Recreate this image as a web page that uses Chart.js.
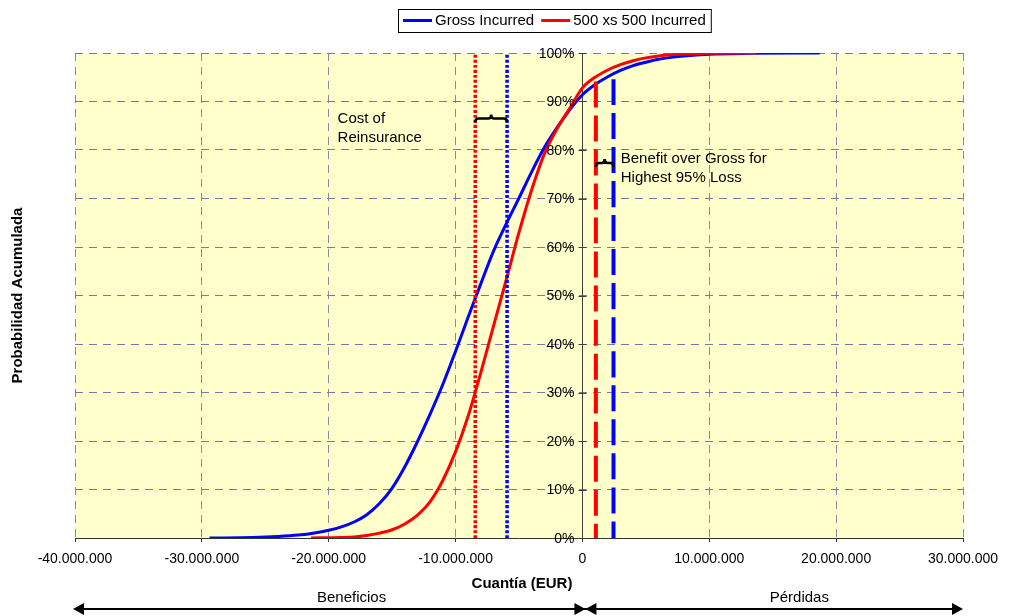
<!DOCTYPE html>
<html>
<head>
<meta charset="utf-8">
<script src="https://cdn.jsdelivr.net/npm/chart.js@4.4.1/dist/chart.umd.min.js"></script>
<style>
  html, body { margin: 0; padding: 0; background: #fff; }
</style>
</head>
<body>
<canvas id="chart" width="1016" height="616"></canvas>
<script>
const FONT = "'Liberation Sans', Arial, sans-serif";

// cumulative distribution, x in millions of EUR, y in %
const grossX   = [-29.4, -26, -24, -22.4, -21, -20, -19, -18, -17, -16, -15, -14, -13, -12, -11, -10, -9, -8, -7, -6, -5, -4, -3, -2, -1, 0, 1, 2, 3, 4, 5, 6, 7, 8, 10, 13, 18.7];
const grossPct = [0, 0.1, 0.3, 0.6, 1.1, 1.6, 2.3, 3.3, 4.8, 7.1, 10.3, 14.7, 19.9, 25.6, 31.7, 38.5, 45.6, 52.5, 59.2, 64.8, 70.1, 75.5, 80.5, 84.6, 88.3, 91.4, 93.5, 95.1, 96.4, 97.4, 98.1, 98.7, 99.1, 99.4, 99.75, 99.93, 100];

const xsX   = [-21.4, -19, -18, -17, -16, -15, -14, -13, -12, -11, -10, -9, -8, -7, -6, -5, -4, -3, -2, -1, 0, 1, 2, 3, 4, 5, 6, 7, 8, 10, 13.7];
const xsPct = [0, 0.1, 0.2, 0.5, 1.0, 1.7, 2.9, 4.7, 7.5, 11.9, 17.8, 25.2, 34.2, 43.8, 53.3, 63.0, 71.8, 79.2, 84.4, 88.6, 92.8, 95.0, 96.5, 97.6, 98.4, 99.0, 99.4, 99.65, 99.8, 99.93, 100];

// marker lines (millions of EUR)
const meanXs = -8.45;
const meanGross = -5.94;
const p95Xs = 1.06;
const p95Gross = 2.45;
const p95TopXs = 94.1;
const p95TopGross = 94.6;

const seriesLabels = ['Gross Incurred', '500 xs 500 Incurred'];
const xTickValues = [-40, -30, -20, -10, 0, 10, 20, 30];
const xTickLabels = ['-40.000.000', '-30.000.000', '-20.000.000', '-10.000.000', '0', '10.000.000', '20.000.000', '30.000.000'];
const yTickValues = [0, 10, 20, 30, 40, 50, 60, 70, 80, 90, 100];
const yTickLabels = ['0%', '10%', '20%', '30%', '40%', '50%', '60%', '70%', '80%', '90%', '100%'];

const BLUE = '#0000ff';
const RED = '#ff0000';

function points(xs, ys) {
    return xs.map((x, i) => ({ x: x, y: ys[i] }));
}

function vline(x, y0, y1) {
    return [{ x: x, y: y0 }, { x: x, y: y1 }];
}

function brace(ctx, x1, x2, y) {
    const mid = (x1 + x2) / 2, r = 3, h = 4;
    ctx.beginPath();
    ctx.moveTo(x1, y + h);
    ctx.quadraticCurveTo(x1, y, x1 + r, y);
    ctx.lineTo(mid - r, y);
    ctx.quadraticCurveTo(mid, y, mid, y - h);
    ctx.quadraticCurveTo(mid, y, mid + r, y);
    ctx.lineTo(x2 - r, y);
    ctx.quadraticCurveTo(x2, y, x2, y + h);
    ctx.stroke();
}

function arrowHead(ctx, tipX, y, dir) {
    ctx.beginPath();
    ctx.moveTo(tipX, y);
    ctx.lineTo(tipX - dir * 11, y - 6);
    ctx.lineTo(tipX - dir * 11, y + 6);
    ctx.closePath();
    ctx.fill();
}

const plotBackground = {
    id: 'plotBackground',
    beforeDraw(chart) {
        const { ctx, chartArea: a } = chart;
        ctx.save();
        ctx.fillStyle = '#ffffcc';
        ctx.fillRect(a.left, a.top, a.right - a.left, a.bottom - a.top);
        ctx.restore();
    }
};

// y labels and cross tick marks sit on the axis crossing at x = 0
const yAxisLabels = {
    id: 'yAxisLabels',
    afterDatasetsDraw(chart) {
        const { ctx } = chart;
        const sx = chart.scales.x, sy = chart.scales.y;
        const ax = Math.round(sx.getPixelForValue(0)) + 0.5;
        ctx.save();
        ctx.strokeStyle = '#404040';
        ctx.lineWidth = 1;
        ctx.beginPath();
        yTickValues.forEach(v => {
            const y = Math.round(sy.getPixelForValue(v)) + 0.5;
            ctx.moveTo(ax - 4, y);
            ctx.lineTo(ax + 4, y);
        });
        ctx.stroke();
        ctx.font = '14px ' + FONT;
        ctx.fillStyle = '#000';
        ctx.textAlign = 'right';
        ctx.textBaseline = 'middle';
        yTickValues.forEach((v, i) => ctx.fillText(yTickLabels[i], ax - 8, sy.getPixelForValue(v) + 1));
        ctx.restore();
    }
};

const annotations = {
    id: 'annotations',
    afterDatasetsDraw(chart) {
        const { ctx, chartArea: a } = chart;
        const sx = chart.scales.x, sy = chart.scales.y;
        ctx.save();

        // braces between the marker lines
        ctx.strokeStyle = '#000';
        ctx.lineWidth = 2.5;
        brace(ctx, sx.getPixelForValue(meanXs), sx.getPixelForValue(meanGross), sy.getPixelForValue(86.5));
        brace(ctx, sx.getPixelForValue(p95Xs), sx.getPixelForValue(p95Gross), sy.getPixelForValue(77.3));

        ctx.fillStyle = '#000';
        ctx.font = '15px ' + FONT;
        ctx.textAlign = 'left';
        ctx.textBaseline = 'alphabetic';
        ctx.fillText('Cost of', sx.getPixelForValue(-19.3), sy.getPixelForValue(85.6));
        ctx.fillText('Reinsurance', sx.getPixelForValue(-19.3), sy.getPixelForValue(81.7));
        ctx.fillText('Benefit over Gross for', sx.getPixelForValue(3.02), sy.getPixelForValue(77.3));
        ctx.fillText('Highest 95% Loss', sx.getPixelForValue(3.02), sy.getPixelForValue(73.5));

        // axis titles
        ctx.font = 'bold 15px ' + FONT;
        ctx.textAlign = 'center';
        ctx.textBaseline = 'middle';
        ctx.fillText('Cuantía (EUR)', (a.left + a.right) / 2 + 3, 584);
        ctx.save();
        ctx.translate(18, (a.top + a.bottom) / 2);
        ctx.rotate(-Math.PI / 2);
        ctx.fillText('Probabilidad Acumulada', 0, 0);
        ctx.restore();

        // Beneficios / Pérdidas arrows
        const ay = 609;
        const xl = sx.getPixelForValue(-40) - 2;
        const x0 = sx.getPixelForValue(0) + 3;
        const xr = sx.getPixelForValue(30);
        ctx.lineWidth = 2;
        ctx.beginPath();
        ctx.moveTo(xl + 6, ay);
        ctx.lineTo(xr - 6, ay);
        ctx.stroke();
        arrowHead(ctx, xl, ay, -1);
        arrowHead(ctx, x0, ay, 1);
        arrowHead(ctx, x0, ay, -1);
        arrowHead(ctx, xr, ay, 1);
        ctx.font = '15px ' + FONT;
        ctx.fillText('Beneficios', sx.getPixelForValue(-18.2), 598);
        ctx.fillText('Pérdidas', sx.getPixelForValue(17.1), 598);

        ctx.restore();
    }
};

const boxedLegend = {
    id: 'boxedLegend',
    afterDraw(chart) {
        const ctx = chart.ctx;
        const items = chart.data.datasets.slice(0, seriesLabels.length);
        const sample = 29, gap = 3, between = 7, pad = 5;
        ctx.save();
        ctx.font = '15px ' + FONT;
        let total = pad * 2;
        items.forEach((d, i) => {
            total += sample + gap + ctx.measureText(d.label).width + (i ? between : 0);
        });
        const left = Math.round(554 - total / 2), top = 9, h = 23;
        ctx.fillStyle = '#fff';
        ctx.fillRect(left, top, total, h);
        ctx.strokeStyle = '#000';
        ctx.lineWidth = 1;
        ctx.strokeRect(left + 0.5, top + 0.5, total, h);
        let x = left + pad;
        const cy = top + h / 2;
        items.forEach(d => {
            ctx.strokeStyle = d.borderColor;
            ctx.lineWidth = 3;
            ctx.beginPath();
            ctx.moveTo(x, cy);
            ctx.lineTo(x + sample, cy);
            ctx.stroke();
            x += sample + gap;
            ctx.fillStyle = '#000';
            ctx.textBaseline = 'middle';
            ctx.fillText(d.label, x, cy + 0.5);
            x += ctx.measureText(d.label).width + between;
        });
        ctx.restore();
    }
};

new Chart(document.getElementById('chart'), {
    type: 'line',
    data: {
        datasets: [
            { label: seriesLabels[0], data: points(grossX, grossPct), borderColor: BLUE, borderWidth: 3, order: 2 },
            { label: seriesLabels[1], data: points(xsX, xsPct), borderColor: RED, borderWidth: 3, order: 1 },
            { label: 'meanXs', data: vline(meanXs, 0, 100), borderColor: RED, borderWidth: 3.5, borderDash: [3, 2], tension: 0, order: 0 },
            { label: 'meanGross', data: vline(meanGross, 0, 100), borderColor: BLUE, borderWidth: 3.5, borderDash: [3, 2], tension: 0, order: 0 },
            { label: 'p95Xs', data: vline(p95Xs, p95TopXs, 0), borderColor: RED, borderWidth: 4, borderDash: [26, 8], tension: 0, order: 0 },
            { label: 'p95Gross', data: vline(p95Gross, p95TopGross, 0), borderColor: BLUE, borderWidth: 4, borderDash: [26, 8], tension: 0, order: 0 }
        ]
    },
    options: {
        responsive: false,
        animation: false,
        layout: { padding: { left: 75, right: 53, top: 53, bottom: 0 } },
        elements: {
            point: { radius: 0, hoverRadius: 0 },
            line: { cubicInterpolationMode: 'monotone', fill: false }
        },
        plugins: {
            legend: { display: false },
            tooltip: { enabled: false }
        },
        scales: {
            x: {
                type: 'linear',
                min: -40,
                max: 30,
                afterFit(scale) { scale.height = 78; },
                afterBuildTicks(scale) { scale.ticks = xTickValues.map(v => ({ value: v })); },
                ticks: {
                    autoSkip: false,
                    maxRotation: 0,
                    padding: 9,
                    color: '#000',
                    font: { family: FONT, size: 14 },
                    callback: v => xTickLabels[xTickValues.indexOf(v)]
                },
                grid: { color: '#8a8a9a', tickLength: 4, tickColor: '#333', lineWidth: 1 },
                border: { display: true, color: '#333', width: 1, dash: [8, 6] }
            },
            y: {
                type: 'linear',
                min: 0,
                max: 100,
                position: { x: 0 },
                afterBuildTicks(scale) { scale.ticks = yTickValues.map(v => ({ value: v })); },
                ticks: { display: false },
                grid: { color: '#7878a8', drawTicks: false, lineWidth: 1 },
                border: { display: true, color: '#404040', width: 1, dash: [8, 6] }
            }
        }
    },
    plugins: [plotBackground, yAxisLabels, annotations, boxedLegend]
});
</script>
</body>
</html>
